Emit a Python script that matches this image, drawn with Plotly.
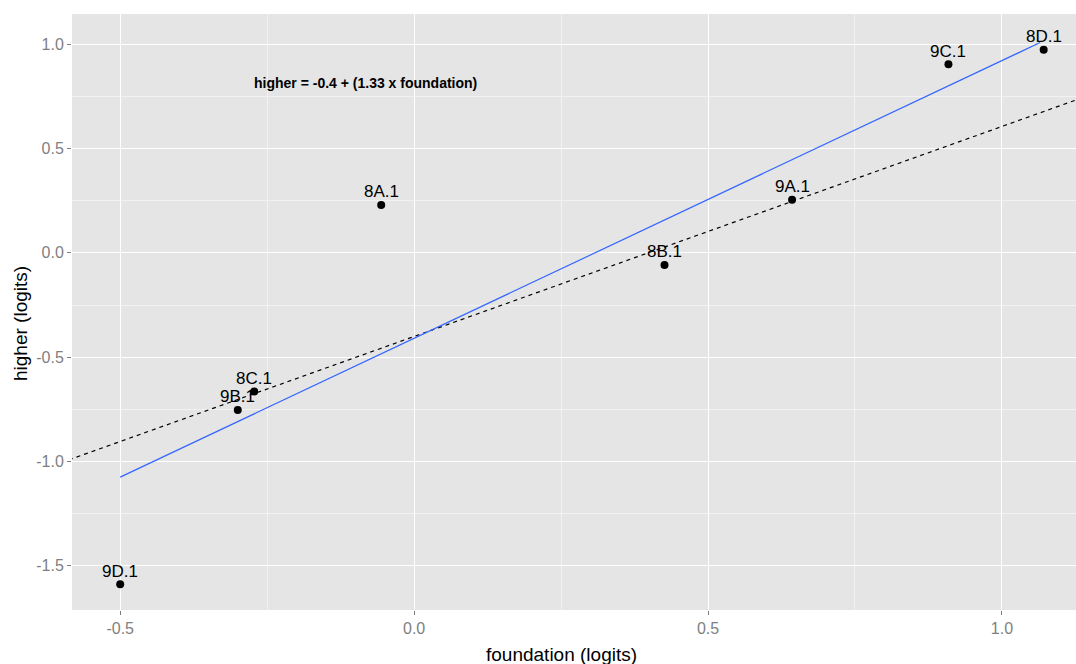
import plotly.graph_objects as go

# data
labels = ["9D.1", "9B.1", "8C.1", "8A.1", "8B.1", "9A.1", "9C.1", "8D.1"]
foundation = [-0.500, -0.300, -0.272, -0.056, 0.426, 0.643, 0.909, 1.071]
higher = [-1.589, -0.753, -0.664, 0.230, -0.058, 0.254, 0.904, 0.974]

# fitted line (blue) points
fit_x = [-0.500, 0.000, 1.065]
fit_y = [-1.075, -0.410, 1.008]

# dashed reference line
ref_x = [-0.600, 1.150]
ref_y = [-1.005, 0.757]

eq_text = "higher = -0.4 + (1.33 x foundation)"
eq_pos = (-0.083, 0.815)

x_ticks = [-0.5, 0.0, 0.5, 1.0]
y_ticks = [-1.5, -1.0, -0.5, 0.0, 0.5, 1.0]

FONT = "Liberation Sans, Arial, Helvetica"
W, H = 1076, 664
L, R, T, B = 72, 0, 14, 54

fig = go.Figure()
fig.add_trace(go.Scatter(x=ref_x, y=ref_y, mode="lines",
                         line=dict(color="black", width=1.2, dash="4px,4px"),
                         hoverinfo="skip"))
fig.add_trace(go.Scatter(x=fit_x, y=fit_y, mode="lines",
                         line=dict(color="#3366FF", width=1.2),
                         hoverinfo="skip"))
fig.add_trace(go.Scatter(x=foundation, y=higher, mode="markers",
                         marker=dict(color="black", size=8),
                         text=labels))

for lx, ly, lt in zip(foundation, higher, labels):
    fig.add_annotation(x=lx, y=ly, text=lt, showarrow=False,
                       xanchor="center", yanchor="middle", yshift=13,
                       font=dict(family=FONT, size=17, color="black"))

fig.add_annotation(x=eq_pos[0], y=eq_pos[1], text="<b>" + eq_text + "</b>",
                   showarrow=False, xanchor="center", yanchor="middle",
                   font=dict(family=FONT, size=14, color="black"))

pw, ph = W - L - R, H - T - B
# axis titles
fig.add_annotation(x=(561 - L) / pw, y=-(654 - (H - B)) / ph, xref="paper", yref="paper",
                   text="foundation (logits)", showarrow=False,
                   xanchor="center", yanchor="middle",
                   font=dict(family=FONT, size=19, color="black"))
fig.add_annotation(x=-(L - 20) / pw, y=((H - B) - 324) / ph,
                   xref="paper", yref="paper", text="higher (logits)", textangle=-90,
                   showarrow=False, xanchor="center", yanchor="middle",
                   font=dict(family=FONT, size=19, color="black"))

axis_common = dict(
    showgrid=True, gridcolor="white", gridwidth=1.4,
    zeroline=False, showline=False,
    ticks="outside", ticklen=4, tickcolor="#7f7f7f", tickwidth=1,
    tickfont=dict(family=FONT, size=16, color="#7f7f7f"),
)

fig.update_xaxes(range=[-0.582, 1.126], tickvals=x_ticks,
                 ticktext=[f"{v:.1f}" for v in x_ticks],
                 minor=dict(tick0=0.25, dtick=0.5, showgrid=True, gridcolor="#f2f2f2",
                            gridwidth=0.7, ticks=""),
                 **axis_common)
fig.update_yaxes(range=[-1.712, 1.145], tickvals=y_ticks,
                 ticktext=[f"{v:.1f}" for v in y_ticks],
                 minor=dict(tick0=0.25, dtick=0.5, showgrid=True, gridcolor="#f2f2f2",
                            gridwidth=0.7, ticks=""),
                 **axis_common)

fig.update_layout(
    width=W, height=H,
    margin=dict(l=L, r=R, t=T, b=B),
    plot_bgcolor="#e5e5e5", paper_bgcolor="white",
    showlegend=False,
    font=dict(family=FONT),
)

fig.write_html("out.html", config={"displayModeBar": False},
               post_script="document.body.style.margin='0px';document.body.style.overflow='hidden';")
